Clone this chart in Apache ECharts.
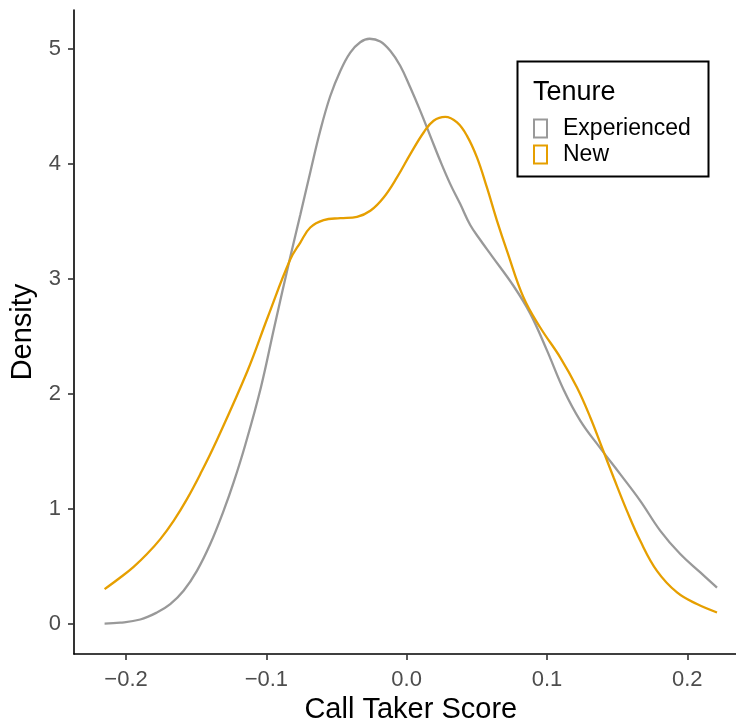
<!DOCTYPE html>
<html>
<head>
<meta charset="utf-8">
<title>Call Taker Score density</title>
<script src="https://cdn.jsdelivr.net/npm/echarts@6/dist/echarts.min.js"></script>
<style>
  html, body { margin:0; padding:0; background:#fff; }
  #main { width:736px; height:724px; }
</style>
</head>
<body>
<div id="main"></div>
<script type="text/javascript">
// values
var expX = [-0.2153,-0.2041,-0.1899,-0.1780,-0.1685,-0.1590,-0.1495,-0.1400,-0.1305,-0.1234,-0.1150,-0.1039,-0.0944,-0.0830,-0.0758,-0.0687,-0.0616,-0.0545,-0.0473,-0.0402,-0.0331,-0.0264,-0.0188,-0.0117,-0.0046,0.0026,0.0097,0.0168,0.0239,0.0311,0.0382,0.0453,0.0525,0.0608,0.0762,0.0881,0.1000,0.1118,0.1237,0.1380,0.1522,0.1665,0.1808,0.1950,0.2093,0.2212];
var expY = [0.005,0.012,0.040,0.101,0.174,0.290,0.463,0.696,0.985,1.230,1.560,2.058,2.580,3.190,3.560,3.930,4.290,4.590,4.810,4.970,5.060,5.090,5.066,4.985,4.855,4.666,4.463,4.246,4.029,3.826,3.652,3.470,3.340,3.200,2.940,2.700,2.380,2.040,1.770,1.530,1.304,1.072,0.811,0.609,0.449,0.318];

var newX = [-0.2153,-0.2041,-0.1946,-0.1851,-0.1756,-0.1661,-0.1566,-0.1471,-0.1364,-0.1134,-0.0991,-0.0830,-0.0758,-0.0687,-0.0592,-0.0473,-0.0354,-0.0259,-0.0164,-0.0069,0.0026,0.0121,0.0192,0.0275,0.0359,0.0430,0.0501,0.0572,0.0644,0.0715,0.0833,0.0952,0.1095,0.1214,0.1309,0.1392,0.1475,0.1570,0.1665,0.1784,0.1927,0.2069,0.2212];
var newY = [0.304,0.405,0.498,0.609,0.739,0.898,1.087,1.304,1.570,2.203,2.666,3.170,3.318,3.449,3.513,3.530,3.542,3.594,3.710,3.884,4.087,4.275,4.377,4.411,4.362,4.246,4.058,3.797,3.507,3.246,2.840,2.579,2.318,2.057,1.797,1.536,1.275,0.985,0.724,0.463,0.275,0.174,0.101];

var xTicks = [-0.2,-0.1,0,0.1,0.2];
var yTicks = [0,1,2,3,4,5];
var groups = ['Experienced','New'];
var colors = ['#999999','#E69F00'];

function zip(xs, ys){
	var out = [];
	for(var i=0;i<xs.length;i++){ out.push([xs[i], ys[i]]); }
	return out;
}

var myChart = echarts.init(document.getElementById('main'));
var font = "'Liberation Sans', Arial, sans-serif";
var option = {
	animation:false,
	textStyle:{ fontFamily:font },
	grid:{ left:74, right:-11.6, top:10, bottom:70, outerBoundsMode:'none', containLabel:false },
	title:{
		text:'Tenure', left:533, top:79, padding:0,
		textStyle:{ fontSize:27, fontWeight:'normal', color:'#000', fontFamily:font }
	},
	legend:{
		orient:'vertical', left:533, top:117, padding:0,
		icon:'rect', itemWidth:13, itemHeight:18, itemGap:3,
		textStyle:{ fontSize:23, color:'#000', padding:[0,0,0,11], fontFamily:font },
		data:[
			{ name:groups[0], itemStyle:{ color:'#fff', borderColor:colors[0], borderWidth:2 } },
			{ name:groups[1], itemStyle:{ color:'#fff', borderColor:colors[1], borderWidth:2 } }
		]
	},
	graphic:[{
		type:'rect', left:515, top:59, z:100,
		shape:{ width:191, height:115 },
		style:{ fill:'none', stroke:'#000', lineWidth:2 }
	}],
	xAxis:{
		type:'value', min:-0.2371, max:0.2430,
		name:'Call Taker Score', nameLocation:'middle', nameGap:29,
		nameTextStyle:{ fontSize:29, color:'#000', fontFamily:font },
		splitLine:{ show:false },
		axisLine:{ onZero:false, lineStyle:{ color:'#000', width:1.6 } },
		axisTick:{ customValues:xTicks, length:6, lineStyle:{ color:'#333', width:1.6 } },
		axisLabel:{
			customValues:xTicks, margin:15, fontSize:22, color:'#4D4D4D',
			formatter:function(v){ return v < 0 ? '\u2212' + Math.abs(v).toFixed(1) : v.toFixed(1); }
		}
	},
	yAxis:{
		type:'value', min:-0.26, max:5.34,
		name:'Density', nameLocation:'middle', nameGap:37, nameRotate:90,
		nameTextStyle:{ fontSize:29, color:'#000', fontFamily:font },
		splitLine:{ show:false },
		axisLine:{ onZero:false, lineStyle:{ color:'#000', width:1.6 } },
		axisTick:{ customValues:yTicks, length:6, lineStyle:{ color:'#333', width:1.6 } },
		axisLabel:{ customValues:yTicks, margin:13, fontSize:22, color:'#4D4D4D' }
	},
	series:[
		{
			name:groups[0], type:'line', data:zip(expX, expY),
			showSymbol:false, smooth:0.4, color:colors[0],
			lineStyle:{ color:colors[0], width:2.3 }
		},
		{
			name:groups[1], type:'line', data:zip(newX, newY),
			showSymbol:false, smooth:0.4, color:colors[1],
			lineStyle:{ color:colors[1], width:2.3 }
		}
	]
};
myChart.setOption(option);
</script>
</body>
</html>
